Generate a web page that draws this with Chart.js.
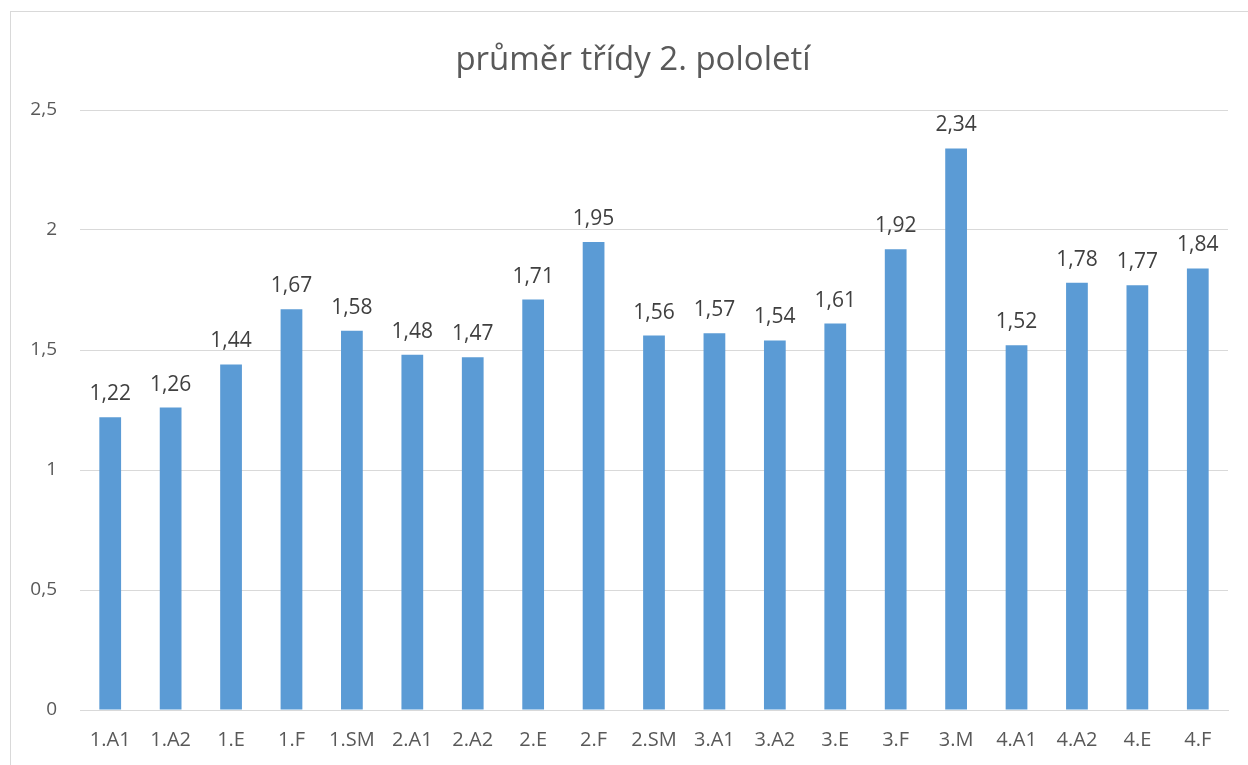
<!DOCTYPE html>
<html>
<head>
<meta charset="utf-8">
<script src="https://cdn.jsdelivr.net/npm/chart.js@4"></script>
<style>
  html, body { margin: 0; padding: 0; background: #fff; overflow: hidden; }
  #wrap { position: relative; width: 1248px; height: 765px; }
  #frame { position: absolute; left: 10px; top: 11px; width: 1260px; height: 800px; border: 1px solid #d9d9d9; box-sizing: border-box; }
  canvas { position: absolute; left: 0; top: 0; }
</style>
</head>
<body>
<div id="wrap">
  <div id="frame"></div>
  <canvas id="chart" width="1248" height="765"></canvas>
</div>
<script>
const classes = ['1.A1', '1.A2', '1.E', '1.F', '1.SM', '2.A1', '2.A2', '2.E', '2.F', '2.SM',
                 '3.A1', '3.A2', '3.E', '3.F', '3.M', '4.A1', '4.A2', '4.E', '4.F'];
const averages = [1.22, 1.26, 1.44, 1.67, 1.58, 1.48, 1.47, 1.71, 1.95, 1.56,
                  1.57, 1.54, 1.61, 1.92, 2.34, 1.52, 1.78, 1.77, 1.84];
const chartTitle = 'průměr třídy 2. pololetí';

const fontFamily = '"Open Sans", "Noto Sans", sans-serif';

function czech(v) {
  return String(v).replace('.', ',');
}

// title centred on the whole frame, not just the canvas padding box
const frameTitle = {
  id: 'frameTitle',
  afterDraw(chart) {
    const ctx = chart.ctx;
    ctx.save();
    ctx.font = '33px ' + fontFamily;
    ctx.fillStyle = '#595959';
    ctx.textAlign = 'center';
    ctx.textBaseline = 'alphabetic';
    ctx.fillText(chartTitle, 633, 70);
    ctx.restore();
  }
};

// value labels above bars
const barLabels = {
  id: 'barLabels',
  afterDatasetsDraw(chart) {
    const ctx = chart.ctx;
    const meta = chart.getDatasetMeta(0);
    ctx.save();
    ctx.font = '21px ' + fontFamily;
    ctx.fillStyle = '#404040';
    ctx.textAlign = 'center';
    ctx.textBaseline = 'alphabetic';
    meta.data.forEach(function (bar, i) {
      ctx.fillText(czech(averages[i].toFixed(2)), bar.x, bar.y - 17);
    });
    ctx.restore();
  }
};

const ctx = document.getElementById('chart').getContext('2d');
new Chart(ctx, {
  type: 'bar',
  data: {
    labels: classes,
    datasets: [{
      data: averages,
      backgroundColor: '#5b9bd5',
      borderWidth: 0,
      categoryPercentage: 1,
      barPercentage: 0.36
    }]
  },
  options: {
    responsive: false,
    animation: false,
    layout: { padding: { left: 10, right: 20, top: 110, bottom: 15 } },
    scales: {
      x: {
        grid: { display: false, drawTicks: false },
        border: { color: '#d9d9d9', width: 1 },
        ticks: { color: '#595959', font: { family: fontFamily, size: 20 }, padding: 18, maxRotation: 0, autoSkip: false },
        afterFit: function (axis) { axis.height = 40; }
      },
      y: {
        min: 0,
        max: 2.5,
        grid: { color: '#d9d9d9', drawTicks: false },
        border: { display: false },
        ticks: {
          stepSize: 0.5,
          color: '#595959',
          font: { family: fontFamily, size: 19 },
          padding: 23,
          callback: function (v) { return czech(v); }
        },
        afterFit: function (axis) { axis.width = 70; }
      }
    },
    plugins: {
      legend: { display: false },
      tooltip: { enabled: false },
      title: { display: false }
    }
  },
  plugins: [barLabels, frameTitle]
});
</script>
</body>
</html>
